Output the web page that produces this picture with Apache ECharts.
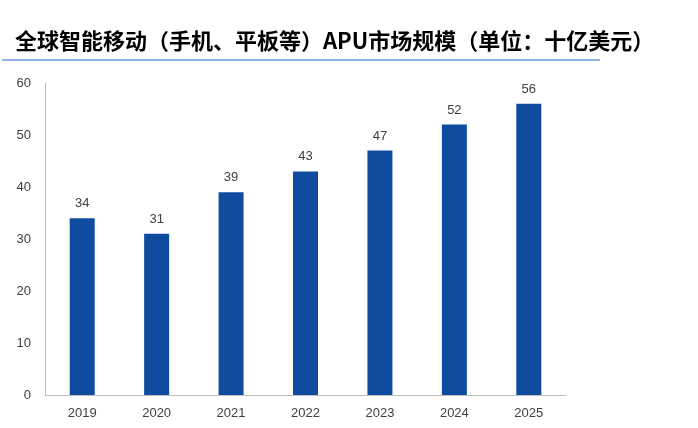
<!DOCTYPE html>
<html><head><meta charset="utf-8">
<script src="https://cdn.jsdelivr.net/npm/echarts@6/dist/echarts.min.js"></script>
<style>body{margin:0}#c{width:698px;height:428px}</style></head>
<body><div id="c"></div>
<script>
var years = ['2019', '2020', '2021', '2022', '2023', '2024', '2025'];
var values = [34, 31, 39, 43, 47, 52, 56];

var chart = echarts.init(document.getElementById('c'));
chart.setOption({
    animation: false,
    title: {
        text: '全球智能移动（手机、平板等）APU市场规模（单位：十亿美元）',
        left: 10, top: 25,
        textStyle: {fontFamily: "'Noto Sans CJK SC'", fontSize: 22, fontWeight: 'bold', color: '#000'}
    },
    graphic: [{
        type: 'line', shape: {x1: 2, y1: 60, x2: 600, y2: 60},
        style: {stroke: '#8eb4e3', lineWidth: 2}
    }],
    grid: {left: 45, right: 132, top: 83, bottom: 33},
    xAxis: {
        type: 'category', data: years,
        axisLine: {lineStyle: {color: '#bfbfbf'}},
        axisTick: {show: false},
        axisLabel: {color: '#404040', fontSize: 13, fontFamily: 'Arial', margin: 12}
    },
    yAxis: {
        type: 'value', min: 0, max: 60, interval: 10,
        axisLine: {show: true, lineStyle: {color: '#bfbfbf'}},
        splitLine: {show: false},
        axisLabel: {color: '#404040', fontSize: 13, fontFamily: 'Arial', margin: 14}
    },
    series: [{
        type: 'bar', data: values, barWidth: 25,
        itemStyle: {color: '#0f4c9f'},
        label: {show: true, position: 'top', distance: 8, color: '#404040', fontSize: 13, fontFamily: 'Arial'}
    }]
});
</script></body></html>
